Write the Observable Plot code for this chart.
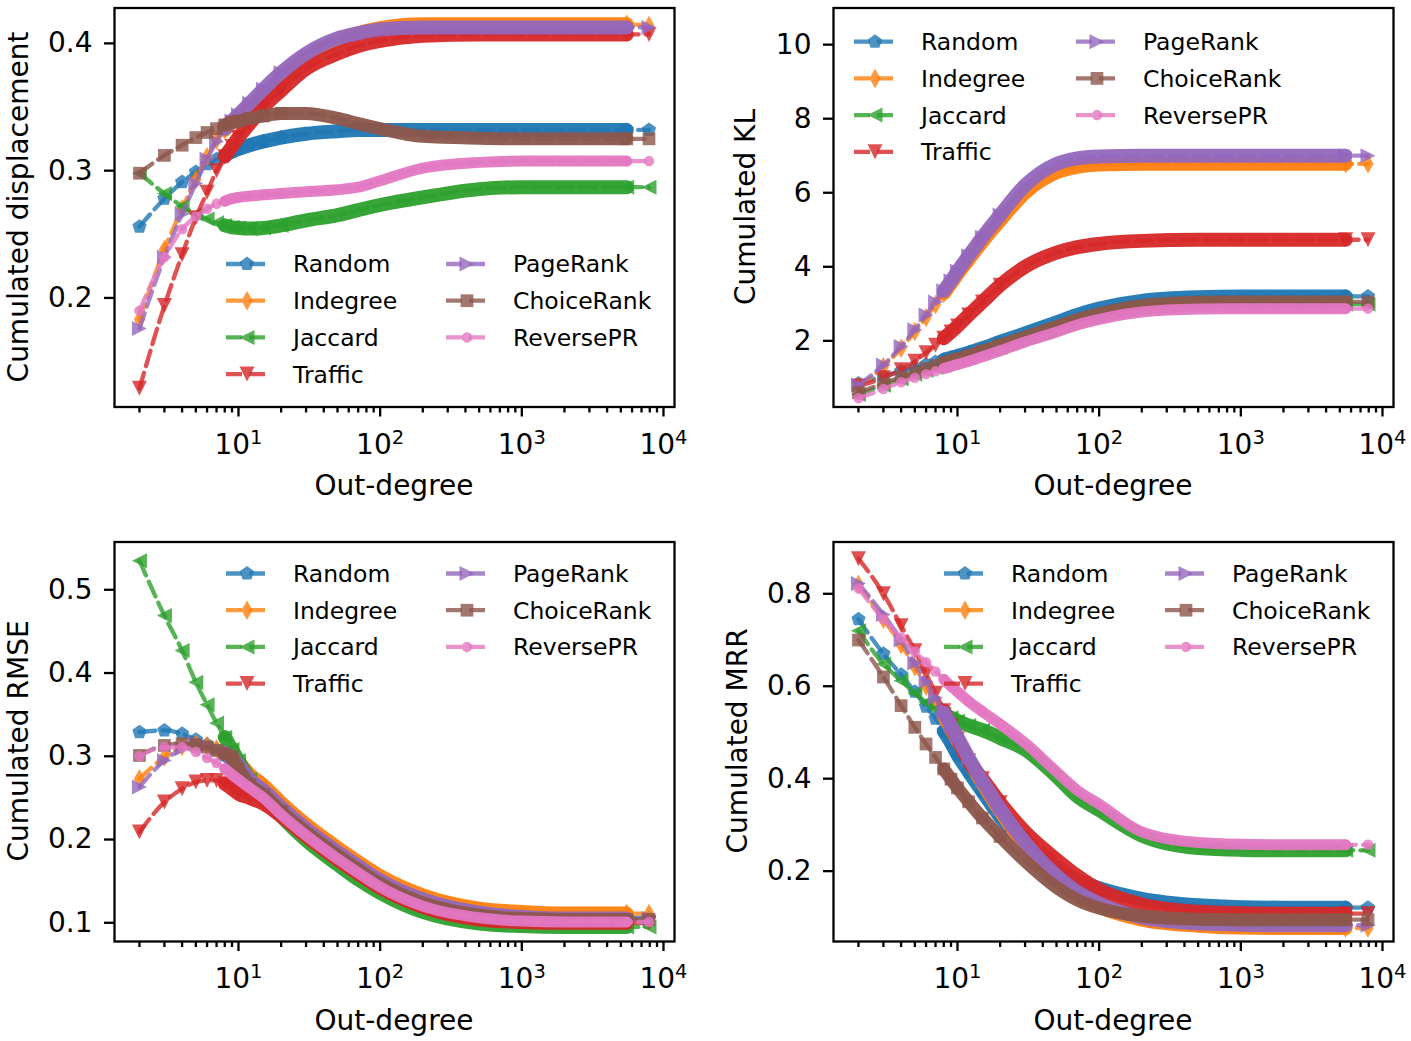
<!DOCTYPE html>
<html><head><meta charset="utf-8">
<script src="https://cdn.jsdelivr.net/npm/d3@7"></script>
<script src="https://cdn.jsdelivr.net/npm/@observablehq/plot@0.6"></script>
<style>
html,body{margin:0;padding:0;background:#fff;}
#root{position:relative;width:1411px;height:1041px;overflow:hidden;font-family:"DejaVu Sans",sans-serif;}
.panel{position:absolute;}
</style></head><body><div id="root"></div>
<script>
const methods = ["Random","Indegree","Jaccard","Traffic","PageRank","ChoiceRank","ReversePR"];
const colors = ["#1f77b4","#ff7f0e","#2ca02c","#d62728","#9467bd","#8c564b","#e377c2"];
const outDegree = [2,3,4,5,6,7,8,9,10,12,15,20,30,50,70,100,200,500,1000,2000,5500,7900];
const xMajorTicks = [10,100,1000,10000];
const xTickLabels = ["10^1","10^2","10^3","10^4"];

const displacement = {
  Random:     [0.256,0.278,0.291,0.299,0.305,0.309,0.312,0.315,0.317,0.320,0.323,0.326,0.329,0.331,0.332,0.332,0.332,0.332,0.332,0.332,0.332,0.332],
  Indegree:   [0.183,0.238,0.270,0.293,0.311,0.324,0.332,0.338,0.342,0.350,0.360,0.373,0.389,0.402,0.408,0.412,0.415,0.415,0.415,0.415,0.415,0.414],
  Jaccard:    [0.298,0.282,0.272,0.266,0.262,0.259,0.257,0.2555,0.255,0.2545,0.255,0.257,0.261,0.265,0.269,0.273,0.279,0.2855,0.287,0.287,0.287,0.287],
  Traffic:    [0.129,0.194,0.234,0.263,0.283,0.300,0.311,0.319,0.326,0.337,0.350,0.363,0.380,0.392,0.398,0.402,0.406,0.407,0.407,0.407,0.407,0.407],
  PageRank:   [0.176,0.232,0.266,0.290,0.309,0.323,0.333,0.339,0.344,0.353,0.364,0.377,0.392,0.404,0.408,0.411,0.4125,0.4125,0.4125,0.4125,0.4125,0.4125],
  ChoiceRank: [0.298,0.312,0.320,0.326,0.330,0.333,0.336,0.338,0.339,0.341,0.343,0.345,0.345,0.341,0.337,0.333,0.327,0.3255,0.325,0.325,0.325,0.325],
  ReversePR:  [0.190,0.232,0.254,0.264,0.270,0.274,0.276,0.278,0.279,0.280,0.281,0.282,0.2835,0.285,0.287,0.292,0.302,0.3065,0.3075,0.3075,0.3075,0.3075]
};
const kl = {
  Random:     [0.85,1.05,1.18,1.28,1.36,1.43,1.49,1.54,1.59,1.68,1.80,1.97,2.20,2.50,2.70,2.87,3.08,3.18,3.20,3.20,3.20,3.20],
  Indegree:   [0.75,1.30,1.80,2.25,2.63,2.98,3.28,3.55,3.80,4.20,4.68,5.25,6.00,6.55,6.70,6.76,6.78,6.78,6.78,6.78,6.78,6.78],
  Jaccard:    [0.55,0.80,0.97,1.10,1.20,1.28,1.35,1.41,1.46,1.55,1.67,1.83,2.04,2.32,2.51,2.67,2.89,2.98,2.99,2.99,2.99,2.99],
  Traffic:    [0.78,1.00,1.22,1.45,1.68,1.88,2.07,2.24,2.40,2.70,3.05,3.50,4.00,4.38,4.53,4.62,4.70,4.73,4.73,4.73,4.73,4.73],
  PageRank:   [0.80,1.35,1.85,2.30,2.70,3.05,3.35,3.62,3.88,4.30,4.80,5.40,6.20,6.78,6.93,6.98,7.00,7.00,7.00,7.00,7.00,7.00],
  ChoiceRank: [0.60,0.85,1.02,1.15,1.25,1.33,1.40,1.46,1.51,1.60,1.72,1.88,2.10,2.38,2.57,2.73,2.95,3.04,3.05,3.05,3.05,3.05],
  ReversePR:  [0.45,0.70,0.88,1.00,1.10,1.18,1.25,1.31,1.36,1.45,1.57,1.73,1.97,2.24,2.43,2.58,2.78,2.86,2.87,2.87,2.87,2.87]
};
const rmse = {
  Random:     [0.329,0.331,0.327,0.320,0.314,0.308,0.302,0.297,0.290,0.272,0.258,0.237,0.211,0.183,0.166,0.149,0.126,0.110,0.107,0.106,0.106,0.106],
  Indegree:   [0.273,0.299,0.312,0.315,0.313,0.309,0.305,0.300,0.293,0.278,0.265,0.244,0.218,0.190,0.173,0.156,0.133,0.117,0.113,0.111,0.111,0.111],
  Jaccard:    [0.535,0.469,0.427,0.389,0.362,0.340,0.323,0.308,0.295,0.272,0.252,0.228,0.199,0.170,0.152,0.136,0.113,0.099,0.096,0.095,0.095,0.095],
  Traffic:    [0.209,0.245,0.261,0.269,0.271,0.271,0.267,0.261,0.255,0.250,0.243,0.228,0.204,0.176,0.159,0.142,0.119,0.104,0.101,0.100,0.100,0.100],
  PageRank:   [0.263,0.295,0.309,0.315,0.313,0.309,0.304,0.299,0.290,0.272,0.259,0.239,0.213,0.185,0.168,0.151,0.128,0.112,0.107,0.105,0.105,0.105],
  ChoiceRank: [0.301,0.313,0.315,0.314,0.311,0.307,0.303,0.299,0.285,0.266,0.254,0.234,0.209,0.181,0.164,0.147,0.124,0.109,0.105,0.104,0.104,0.104],
  ReversePR:  [0.300,0.311,0.311,0.305,0.298,0.292,0.285,0.278,0.272,0.262,0.250,0.230,0.205,0.177,0.160,0.143,0.120,0.106,0.102,0.101,0.101,0.101]
};
const mrr = {
  Random:     [0.745,0.670,0.625,0.588,0.556,0.530,0.503,0.478,0.452,0.415,0.372,0.318,0.258,0.205,0.180,0.163,0.140,0.126,0.122,0.121,0.121,0.121],
  Indegree:   [0.820,0.745,0.690,0.642,0.600,0.565,0.535,0.508,0.483,0.440,0.390,0.330,0.255,0.183,0.148,0.123,0.095,0.082,0.078,0.077,0.077,0.077],
  Jaccard:    [0.720,0.648,0.612,0.585,0.565,0.550,0.540,0.532,0.525,0.515,0.505,0.488,0.463,0.405,0.362,0.332,0.277,0.250,0.246,0.245,0.245,0.245],
  Traffic:    [0.876,0.800,0.731,0.677,0.627,0.585,0.547,0.514,0.486,0.438,0.400,0.348,0.285,0.225,0.190,0.160,0.128,0.112,0.109,0.108,0.108,0.108],
  PageRank:   [0.822,0.755,0.700,0.650,0.610,0.575,0.543,0.515,0.490,0.445,0.395,0.335,0.262,0.190,0.155,0.130,0.100,0.087,0.084,0.083,0.083,0.083],
  ChoiceRank: [0.700,0.620,0.558,0.511,0.475,0.446,0.421,0.399,0.380,0.350,0.315,0.275,0.222,0.165,0.138,0.120,0.103,0.096,0.095,0.095,0.095,0.095],
  ReversePR:  [0.812,0.745,0.705,0.675,0.652,0.632,0.615,0.600,0.588,0.567,0.545,0.518,0.477,0.415,0.375,0.345,0.285,0.262,0.258,0.257,0.257,0.257]
};

// marker shapes (matplotlib: p, d, <, v, >, s, o)
function polySym(pts) {
  return {draw(ctx, size) {
    const R = Math.sqrt(size / Math.PI);
    pts.forEach(([a, b], i) => i ? ctx.lineTo(a * R, b * R) : ctx.moveTo(a * R, b * R));
    ctx.closePath();
  }};
}
const pentagon = polySym(d3.range(5).map(k => { const a = -Math.PI / 2 + k * 2 * Math.PI / 5; return [Math.cos(a), Math.sin(a)]; }));
const thinDiamond = polySym([[0, -1.3], [0.75, 0], [0, 1.3], [-0.75, 0]]);
const triLeft = polySym([[-1, 0], [1, -1], [1, 1]]);
const triDown = polySym([[0, 1], [-1, -1], [1, -1]]);
const triRight = polySym([[1, 0], [-1, -1], [-1, 1]]);
const square = polySym([[-0.85, -0.85], [0.85, -0.85], [0.85, 0.85], [-0.85, 0.85]]);
const smallCircle = {draw(ctx, size) { const R = Math.sqrt(size / Math.PI) * 0.7; ctx.moveTo(R, 0); ctx.arc(0, 0, R, 0, 2 * Math.PI); }};
const symbols = [pentagon, thinDiamond, triLeft, triDown, triRight, square, smallCircle];
const bandWidth = [14, 14, 14, 14, 14, 13, 11];
const markerR = 7.5;

const minorTicks = [];
for (const p of [1, 10, 100, 1000]) for (let k = 2; k <= 9; k++) minorTicks.push(k * p);

const root = document.getElementById("root");

function panel(cfg) {
  const rows = [];
  methods.forEach((m, i) => cfg.data[m].forEach((v, j) => rows.push({method: m, idx: i, x: outDegree[j], y: v})));
  const marks = [];
  methods.forEach((m, i) => {
    const s = rows.filter(d => d.method === m);
    marks.push(Plot.line(s, {x: "x", y: "y", stroke: colors[i], strokeWidth: 4.3, strokeDasharray: "16,7", strokeOpacity: 0.8, curve: "monotone-x"}));
    marks.push(Plot.line(s.filter(d => d.x >= 8 && d.x <= 5500), {x: "x", y: "y", stroke: colors[i], strokeWidth: bandWidth[i], strokeOpacity: 0.95, curve: "monotone-x"}));
    marks.push(Plot.dot(s.filter(d => d.x <= 20 || d.x >= 5500), {x: "x", y: "y", symbol: symbols[i], r: markerR, fill: colors[i], fillOpacity: 0.8, stroke: "none"}));
  });
  marks.push(
    Plot.frame({stroke: "black", strokeWidth: 2.3}),
    Plot.axisX({ticks: xMajorTicks, tickSize: 10, tickPadding: 17, strokeWidth: 2.3,
      tickFormat: d => xTickLabels[xMajorTicks.indexOf(d)], label: null}),
    Plot.axisX({ticks: minorTicks, tickSize: 6, strokeWidth: 2.3, tickFormat: () => "", label: null}),
    Plot.axisY({ticks: cfg.yTicks, tickSize: 10, tickPadding: 12, strokeWidth: 2.3, tickFormat: cfg.yFormat, label: null})
  );
  const svg = Plot.plot({
    width: cfg.width, height: cfg.height,
    marginLeft: cfg.m[0], marginRight: cfg.m[1], marginTop: cfg.m[2], marginBottom: cfg.m[3],
    x: {type: "log", domain: [1.333, 11960], axis: null},
    y: {domain: cfg.yDomain, axis: null},
    style: {fontFamily: "DejaVu Sans", fontSize: "28px", background: "transparent", color: "black", overflow: "visible"},
    marks
  });
  const sel = d3.select(svg);
  // superscript exponents on the log tick labels
  sel.selectAll("text").each(function() {
    const mm = /^10\^(\d)$/.exec(this.textContent);
    if (mm) {
      this.textContent = "";
      d3.select(this).append("tspan").text("10");
      d3.select(this).append("tspan").attr("dy", -10).attr("font-size", "19.5px").text(mm[1]);
    }
  });
  // axis titles
  sel.append("text").attr("x", cfg.xLab[0]).attr("y", cfg.xLab[1]).attr("text-anchor", "middle")
    .attr("font-size", 28).attr("fill", "black").text("Out-degree");
  sel.append("text").attr("transform", `translate(${cfg.yLab[0]},${cfg.yLab[1]}) rotate(-90)`)
    .attr("text-anchor", "middle").attr("font-size", 28).attr("fill", "black").text(cfg.yLabel);
  // legend
  const g = sel.append("g");
  methods.forEach((m, i) => {
    const col = i < 4 ? 0 : 1, row = i % 4;
    const hx = cfg.legend.cols[col], y = cfg.legend.y0 + row * 36.7;
    g.append("line").attr("x1", hx).attr("x2", hx + 42).attr("y1", y).attr("y2", y)
      .attr("stroke", colors[i]).attr("stroke-width", 4.3).attr("stroke-dasharray", "16,7").attr("stroke-opacity", 0.8);
    g.append("path").attr("d", d3.symbol(symbols[i], Math.PI * markerR * markerR)())
      .attr("transform", `translate(${hx + 21},${y})`).attr("fill", colors[i]).attr("fill-opacity", 0.8);
    g.append("text").attr("x", hx + 67).attr("y", y).attr("dy", "0.36em").attr("font-size", 23.5)
      .attr("text-anchor", "start").attr("fill", "black").text(m);
  });
  const div = document.createElement("div");
  div.className = "panel";
  div.style.left = cfg.left + "px"; div.style.top = cfg.top + "px";
  div.appendChild(svg);
  root.appendChild(div);
}

panel({data: displacement, yDomain: [0.1143, 0.4278], yTicks: [0.2, 0.3, 0.4], yFormat: d3.format(".1f"),
  yLabel: "Cumulated displacement", left: 0, top: 0, width: 705, height: 520, m: [114, 31, 7.5, 113.5],
  xLab: [394, 495], yLab: [28, 207], legend: {cols: [226, 446], y0: 264}});
panel({data: kl, yDomain: [0.213, 10.99], yTicks: [2, 4, 6, 8, 10], yFormat: d3.format("d"),
  yLabel: "Cumulated KL", left: 705, top: 0, width: 706, height: 520, m: [128, 18, 7.5, 113.5],
  xLab: [408, 495], yLab: [50, 207], legend: {cols: [149, 371], y0: 41.7}});
panel({data: rmse, yDomain: [0.0775, 0.5574], yTicks: [0.1, 0.2, 0.3, 0.4, 0.5], yFormat: d3.format(".1f"),
  yLabel: "Cumulated RMSE", left: 0, top: 520, width: 705, height: 521, m: [114, 31, 21.5, 100],
  xLab: [394, 510], yLab: [28, 221], legend: {cols: [226, 446], y0: 53.5}});
panel({data: mrr, yDomain: [0.0478, 0.912], yTicks: [0.2, 0.4, 0.6, 0.8], yFormat: d3.format(".1f"),
  yLabel: "Cumulated MRR", left: 705, top: 520, width: 706, height: 521, m: [128, 18, 21.5, 100],
  xLab: [408, 510], yLab: [42, 221], legend: {cols: [239, 460], y0: 53.5}});
</script></body></html>
